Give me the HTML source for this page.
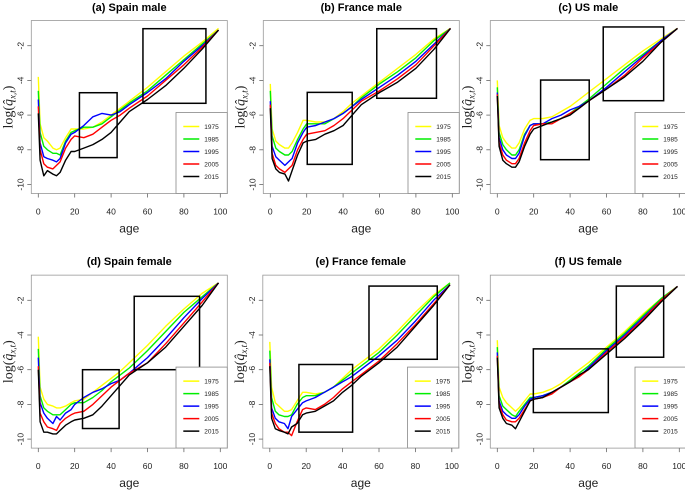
<!DOCTYPE html>
<html><head><meta charset="utf-8"><style>
html,body{margin:0;padding:0;background:#fff;}
svg{display:block;font-family:"Liberation Sans",Arial,sans-serif;}
</style></head><body>
<svg id="chart" width="685" height="492" viewBox="0 0 685 492" xmlns="http://www.w3.org/2000/svg"></svg>
<script>
const ages = [0,1,3,5,8,10,12,15,18,20,25,30,35,40,45,50,60,70,80,90,99];
const years = ["1975","1985","1995","2005","2015"];
const colors = ["#ffff00","#00ee00","#0000ff","#ff0000","#000000"];
const xTicks = [0,20,40,60,80,100];
const yTicks = [-2,-4,-6,-8,-10];

const spainMale1975 = [-3.8,-6.5,-7.3,-7.5,-7.9,-8.0,-7.9,-7.3,-6.8,-6.8,-6.8,-6.7,-6.4,-6.0,-5.6,-5.2,-4.4,-3.5,-2.6,-1.8,-1.0];
const spainMale1985 = [-4.6,-7.0,-7.8,-8.0,-8.2,-8.2,-8.3,-7.5,-7.0,-6.9,-6.7,-6.7,-6.5,-6.1,-5.7,-5.3,-4.6,-3.7,-2.8,-1.9,-1.1];
const spainMale1995 = [-5.1,-7.6,-8.4,-8.5,-8.6,-8.7,-8.5,-7.6,-7.1,-7.0,-6.6,-6.1,-5.9,-6.0,-5.8,-5.4,-4.7,-3.9,-2.9,-2.0,-1.1];
const spainMale2005 = [-5.5,-8.0,-8.8,-9.0,-9.1,-8.9,-8.7,-7.9,-7.4,-7.2,-7.3,-7.1,-6.7,-6.3,-6.0,-5.6,-4.9,-4.0,-3.1,-2.1,-1.1];
const spainMale2015 = [-5.9,-8.6,-9.5,-9.2,-9.4,-9.5,-9.3,-8.6,-8.1,-8.1,-7.9,-7.7,-7.4,-7.0,-6.4,-5.8,-5.1,-4.3,-3.3,-2.2,-1.1];

const franceMale1975 = [-4.2,-6.8,-7.5,-7.7,-7.9,-7.9,-7.6,-7.0,-6.3,-6.3,-6.4,-6.4,-6.2,-5.8,-5.3,-4.9,-4.1,-3.3,-2.5,-1.6,-1.0];
const franceMale1985 = [-4.6,-7.2,-7.9,-8.1,-8.3,-8.3,-8.1,-7.4,-6.8,-6.5,-6.5,-6.5,-6.2,-5.9,-5.5,-5.0,-4.2,-3.5,-2.7,-1.7,-1.0];
const franceMale1995 = [-5.2,-7.8,-8.4,-8.6,-8.9,-8.7,-8.5,-7.6,-7.0,-6.7,-6.6,-6.4,-6.2,-5.9,-5.5,-5.1,-4.4,-3.7,-2.9,-1.9,-1.0];
const franceMale2005 = [-5.4,-8.2,-8.9,-9.1,-9.3,-9.1,-8.9,-8.0,-7.4,-7.1,-7.0,-6.9,-6.6,-6.2,-5.7,-5.2,-4.6,-3.9,-3.1,-2.0,-1.0];
const franceMale2015 = [-5.6,-8.5,-9.1,-9.3,-9.4,-9.8,-9.2,-8.3,-7.6,-7.5,-7.4,-7.1,-6.9,-6.6,-6.0,-5.4,-4.7,-4.1,-3.3,-2.2,-1.0];

const usMale1975 = [-4.0,-6.6,-7.3,-7.6,-7.9,-7.9,-7.6,-6.8,-6.3,-6.2,-6.2,-6.1,-5.8,-5.5,-5.1,-4.7,-3.9,-3.1,-2.3,-1.6,-1.0];
const usMale1985 = [-4.4,-7.0,-7.7,-8.0,-8.3,-8.3,-8.0,-7.1,-6.6,-6.5,-6.5,-6.4,-6.2,-5.9,-5.5,-5.1,-4.2,-3.3,-2.5,-1.7,-1.0];
const usMale1995 = [-4.7,-7.3,-8.0,-8.3,-8.5,-8.5,-8.2,-7.2,-6.6,-6.5,-6.5,-6.2,-6.0,-5.7,-5.5,-5.2,-4.4,-3.5,-2.6,-1.7,-1.0];
const usMale2005 = [-4.8,-7.6,-8.3,-8.6,-8.8,-8.8,-8.5,-7.6,-6.9,-6.6,-6.5,-6.5,-6.2,-5.9,-5.6,-5.2,-4.5,-3.7,-2.7,-1.8,-1.0];
const usMale2015 = [-4.9,-7.8,-8.6,-8.8,-9.0,-9.0,-8.7,-7.8,-7.1,-6.8,-6.6,-6.4,-6.2,-6.0,-5.6,-5.2,-4.5,-3.8,-2.9,-1.8,-1.0];

const spainFemale1975 = [-4.1,-7.0,-7.7,-8.0,-8.1,-8.2,-8.2,-8.1,-7.9,-7.8,-7.7,-7.3,-6.9,-6.5,-6.1,-5.6,-4.6,-3.5,-2.5,-1.6,-1.0];
const spainFemale1985 = [-4.8,-7.5,-8.2,-8.4,-8.6,-8.6,-8.6,-8.3,-8.0,-7.9,-7.9,-7.6,-7.2,-6.7,-6.3,-5.9,-4.9,-3.8,-2.7,-1.8,-1.0];
const spainFemale1995 = [-5.3,-7.9,-8.5,-8.8,-9.1,-8.7,-8.9,-8.5,-8.3,-8.0,-7.6,-7.3,-7.1,-6.8,-6.6,-6.2,-5.3,-4.2,-3.0,-1.9,-1.0];
const spainFemale2005 = [-5.8,-8.5,-9.0,-9.3,-9.4,-9.5,-9.1,-8.8,-8.6,-8.5,-8.4,-8.0,-7.5,-7.0,-6.6,-6.2,-5.6,-4.5,-3.3,-2.1,-1.0];
const spainFemale2015 = [-6.0,-9.0,-9.6,-9.6,-9.7,-9.7,-9.5,-9.2,-9.0,-8.9,-8.8,-8.6,-8.1,-7.5,-6.9,-6.3,-5.6,-4.7,-3.5,-2.3,-1.0];

const franceFemale1975 = [-4.4,-7.0,-7.9,-8.1,-8.4,-8.4,-8.3,-7.8,-7.3,-7.3,-7.4,-7.3,-7.0,-6.5,-6.0,-5.6,-4.8,-3.8,-2.7,-1.7,-1.0];
const franceFemale1985 = [-4.9,-7.6,-8.4,-8.6,-8.7,-8.7,-8.6,-8.0,-7.6,-7.5,-7.5,-7.3,-7.0,-6.6,-6.2,-5.8,-5.0,-4.0,-2.9,-1.8,-1.0];
const franceFemale1995 = [-5.4,-8.2,-8.8,-9.0,-9.1,-9.4,-8.7,-8.3,-7.9,-7.8,-7.6,-7.3,-7.0,-6.7,-6.4,-6.0,-5.2,-4.3,-3.2,-2.0,-1.1];
const franceFemale2005 = [-5.6,-8.5,-9.1,-9.4,-9.6,-9.6,-9.8,-9.0,-8.3,-8.2,-8.3,-8.0,-7.6,-7.1,-6.7,-6.3,-5.5,-4.5,-3.4,-2.2,-1.1];
const franceFemale2015 = [-5.8,-8.8,-9.4,-9.5,-9.6,-9.7,-9.3,-9.1,-8.6,-8.5,-8.4,-8.1,-7.8,-7.3,-6.9,-6.4,-5.6,-4.7,-3.5,-2.3,-1.1];

const usFemale1975 = [-4.3,-7.0,-7.6,-7.9,-8.2,-8.4,-8.2,-7.8,-7.4,-7.4,-7.3,-7.1,-6.8,-6.4,-6.0,-5.6,-4.7,-3.8,-2.8,-1.9,-1.2];
const usFemale1985 = [-4.7,-7.5,-8.1,-8.3,-8.6,-8.7,-8.4,-8.0,-7.6,-7.6,-7.5,-7.3,-7.0,-6.6,-6.2,-5.8,-4.8,-3.9,-2.9,-1.9,-1.2];
const usFemale1995 = [-5.0,-7.8,-8.4,-8.6,-8.8,-8.8,-8.6,-8.1,-7.7,-7.6,-7.5,-7.3,-7.0,-6.7,-6.4,-5.9,-4.9,-4.0,-3.0,-2.0,-1.2];
const usFemale2005 = [-5.2,-8.0,-8.6,-8.9,-9.0,-9.0,-8.8,-8.3,-7.8,-7.7,-7.6,-7.4,-7.0,-6.7,-6.4,-6.0,-5.0,-4.1,-3.1,-2.0,-1.2];
const usFemale2015 = [-5.3,-8.2,-8.8,-9.1,-9.2,-9.4,-9.0,-8.4,-7.8,-7.7,-7.6,-7.3,-7.0,-6.7,-6.3,-6.0,-5.1,-4.2,-3.2,-2.1,-1.2];

// highlight boxes [x1,x2,yTop,yBottom] in data units
const boxesA = [[22.6,43.3,-4.71,-8.45],[57.5,92.1,-1.02,-5.32]];
const boxesB = [[20.3,45.0,-4.69,-8.84],[58.5,91.3,-1.02,-5.03]];
const boxesC = [[23.8,50.5,-3.98,-8.57],[58.2,91.4,-0.92,-5.17]];
const boxesD = [[24.3,44.4,-6.0,-9.39],[52.7,88.6,-1.77,-6.0]];
const boxesE = [[16.0,45.5,-5.70,-9.60],[54.5,92.0,-1.18,-5.40]];
const boxesF = [[19.8,61.0,-4.80,-8.47],[65.4,91.4,-1.18,-5.28]];

const panels = [
  {name:"spain-male", title:"(a) Spain male", x0:38.3, yM2:45.7, yTop:0, series:[spainMale1975,spainMale1985,spainMale1995,spainMale2005,spainMale2015], boxes:boxesA},
  {name:"france-male", title:"(b) France male", x0:270.3, yM2:45.7, yTop:0, series:[franceMale1975,franceMale1985,franceMale1995,franceMale2005,franceMale2015], boxes:boxesB},
  {name:"us-male", title:"(c) US male", x0:497.3, yM2:45.7, yTop:0, series:[usMale1975,usMale1985,usMale1995,usMale2005,usMale2015], boxes:boxesC},
  {name:"spain-female", title:"(d) Spain female", x0:38.3, yM2:300.3, yTop:254, series:[spainFemale1975,spainFemale1985,spainFemale1995,spainFemale2005,spainFemale2015], boxes:boxesD},
  {name:"france-female", title:"(e) France female", x0:269.8, yM2:300.3, yTop:254, series:[franceFemale1975,franceFemale1985,franceFemale1995,franceFemale2005,franceFemale2015], boxes:boxesE},
  {name:"us-female", title:"(f) US female", x0:497.3, yM2:300.3, yTop:254, series:[usFemale1975,usFemale1985,usFemale1995,usFemale2005,usFemale2015], boxes:boxesF}
];

const NS = "http://www.w3.org/2000/svg";
const svg = document.getElementById("chart");
function mk(tag, attrs, parent){
  const e = document.createElementNS(NS, tag);
  for (const k in attrs) e.setAttribute(k, attrs[k]);
  (parent||svg).appendChild(e);
  return e;
}
const XW = 182, YU = 17.35;

panels.forEach(p => {
  const xs = a => p.x0 + a * XW / 100;
  const ys = v => p.yM2 + (-2 - v) * YU;
  const g = mk("g", {});
  
  
  const left = p.x0 - 7, right = p.x0 + XW + 7;
  const top = ys(-0.55), bottom = ys(-10.52);

  const title = mk("text", {x:(left+right)/2, y:p.yTop+11, "text-anchor":"middle", "font-size":"11", "font-weight":"bold"}, g);
  title.textContent = p.title;
  
  

  // series
  p.series.forEach((vals, i) => {
    const d = vals.map((v, j) => (j ? "L" : "M") + xs(ages[j]).toFixed(1) + "," + ys(v).toFixed(1)).join(" ");
    const path = mk("path", {d:d, fill:"none", stroke:colors[i], "stroke-width":"1.4", "stroke-linejoin":"round"}, g);
    
    
  });

  // highlight boxes
  p.boxes.forEach((b, i) => {
    const r = mk("rect", {x:xs(b[0]), y:ys(b[2]), width:xs(b[1]) - xs(b[0]), height:ys(b[3]) - ys(b[2]), fill:"none", stroke:"#000", "stroke-width":"1.5"}, g);
    
    
  });

  // legend
  const legTop = ys(-5.85);
  const lg = mk("g", {}, g);
  
  
  mk("rect", {x:p.x0+137.7, y:legTop, width:right-(p.x0+137.7), height:bottom-legTop, fill:"#fff", stroke:"#888", "stroke-width":"0.8"}, lg);
  years.forEach((yr, i) => {
    const ly = legTop + 14 + 12.5 * i;
    const ln = mk("line", {x1:p.x0+145, x2:p.x0+161, y1:ly, y2:ly, stroke:colors[i], "stroke-width":"1.5"}, lg);
    
    
    const t = mk("text", {x:p.x0+166, y:ly+2.5, "font-size":"6.5", fill:"#222"}, lg);
    t.textContent = yr;
    
    
  });

  // plot frame
  const fr = mk("rect", {x:left, y:top, width:right-left, height:bottom-top, fill:"none", stroke:"#999", "stroke-width":"0.8"}, g);
  
  

  // x axis
  xTicks.forEach(t => {
    mk("line", {x1:xs(t), x2:xs(t), y1:bottom, y2:bottom+4, stroke:"#666", "stroke-width":"0.8"}, g);
    const tx = mk("text", {x:xs(t), y:bottom+21, "text-anchor":"middle", "font-size":"8.5", fill:"#222"}, g);
    tx.textContent = t;
    
    
  });
  const xl = mk("text", {x:(xs(0)+xs(100))/2, y:bottom+39, "text-anchor":"middle", "font-size":"12", fill:"#222"}, g);
  xl.textContent = "age";
  
  

  // y axis
  yTicks.forEach(t => {
    mk("line", {x1:left, x2:left-4, y1:ys(t), y2:ys(t), stroke:"#666", "stroke-width":"0.8"}, g);
    const tx = mk("text", {x:0, y:0, transform:"translate(" + (left-8) + "," + ys(t) + ") rotate(-90)", "text-anchor":"middle", "font-size":"8.5", fill:"#222"}, g);
    tx.textContent = t;
    
    
  });
  const yl = mk("text", {x:0, y:0, transform:"translate(" + (left-19) + "," + ((top+bottom)/2) + ") rotate(-90)", "text-anchor":"middle", "font-size":"14", "font-family":"Liberation Serif, serif", fill:"#222"}, g);
  yl.innerHTML = 'log(<tspan font-style="italic">q̂</tspan><tspan font-size="9" dy="3" font-style="italic">x,t</tspan><tspan dy="-3">)</tspan>';
  
  
});
</script>
</body></html>
